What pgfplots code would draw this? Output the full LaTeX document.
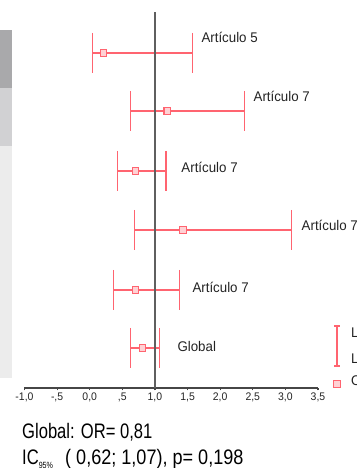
\documentclass[border=0pt]{standalone}
\usepackage{pgfplots}
\pgfplotsset{compat=1.18}
\usepackage{fontspec}
\setmainfont{Liberation Sans}
\newfontfamily\labfont[FakeStretch=0.95]{Liberation Sans}
\newfontfamily\condfont[FakeStretch=0.79]{Liberation Sans}
\newfontfamily\condfontB[FakeStretch=0.86]{Liberation Sans}
\definecolor{cired}{RGB}{255,100,112}
\definecolor{refgray}{RGB}{95,95,95}
\definecolor{axgray}{RGB}{70,70,70}
\definecolor{txt}{RGB}{35,35,35}
\definecolor{bgA}{RGB}{169,169,171}
\definecolor{bgB}{RGB}{209,209,211}
\definecolor{bgC}{RGB}{236,236,236}

% confidence intervals: lower and upper limit of each row, nan separates rows
\pgfplotstableread{
x y
0.04 347
1.57 347
nan nan
0.62 289
2.37 289
nan nan
0.42 229
1.17 229
nan nan
0.68 170
3.09 170
nan nan
0.37 110
1.37 110
nan nan
0.62 52
1.07 52
}\citable

\pgfplotstableread{
or y
0.21 347
1.19 289
0.70 229
1.43 170
0.70 110
0.81 52
}\ortable

\begin{document}
\begin{tikzpicture}[x=1pt,y=1pt]
\path (0,0) rectangle (356,468);
\fill[bgA] (0,438) rectangle (12,380);
\fill[bgB] (0,380) rectangle (12,322);
\fill[bgC] (0,322) rectangle (12,90);
\begin{axis}[
  at={(24.5pt,80pt)}, anchor=south west,
  width=293.5pt, height=376pt, scale only axis,
  xmin=-1, xmax=3.5, ymin=12, ymax=388,
  axis x line=bottom, axis y line=none,
  axis line style={-, axgray, line width=1.1pt},
  xtick={-1,-0.5,0,0.5,1,1.5,2,2.5,3,3.5},
  xticklabels={{-1,0},{-,5},{0,0},{,5},{1,0},{1,5},{2,0},{2,5},{3,0},{3,5}},
  tick align=outside, major tick length=2.5pt,
  tick style={axgray, line width=1.2pt},
  xticklabel style={font=\fontsize{11}{12}\selectfont\labfont, text=txt, yshift=1pt},
  clip=false,
  unbounded coords=jump,
]
\addplot[cired, line width=1.1pt, mark=|, mark size=20pt, mark options={line width=1.1pt}]
  table[x=x, y=y] {\citable};
\addplot[refgray, line width=1.7pt] coordinates {(1,12) (1,388)};
\addplot[only marks, cired, mark=square*, mark size=3.3pt, mark options={fill=cired!30, line width=1.1pt}]
  table[x=or, y=y] {\ortable};
\begin{scope}[every node/.style={anchor=west, inner sep=0pt, font=\fontsize{14}{15}\selectfont\labfont, text=txt}]
\node at (axis cs:1.711,363) {Artículo 5};
\node at (axis cs:2.510,304) {Artículo 7};
\node at (axis cs:1.404,233) {Artículo 7};
\node[overlay] at (axis cs:3.247,175) {Artículo 7};
\node at (axis cs:1.573,113) {Artículo 7};
\node at (axis cs:1.343,54) {Global};
\end{scope}
\end{axis}
% legend
\draw[cired, line width=1.1pt] (337,142) -- (337,102);
\draw[cired, line width=1.1pt] (334,142) -- (340,142);
\draw[cired, line width=1.1pt] (334,102) -- (340,102);
\draw[cired, line width=1.1pt, fill=cired!30] (333.7,80.7) rectangle (340.3,87.3);
\begin{scope}[every node/.style={overlay, anchor=west, inner sep=0pt, font=\fontsize{14}{15}\selectfont\labfont, text=txt}]
\node at (351,134) {Límite superior};
\node at (351,110) {Límite inferior};
\node at (351,87) {OR};
\end{scope}
% bottom text
\node[anchor=base west, inner sep=0pt, font=\fontsize{21}{22}\selectfont\condfont, text=black] at (22,29) {Global: OR= 0,81};
\node[overlay, anchor=base west, inner sep=0pt, font=\fontsize{21}{22}\selectfont\condfont, text=black] at (22,4) {IC\raisebox{-5pt}{\fontsize{9}{9}\selectfont 95\%}};
\node[overlay, anchor=base west, inner sep=0pt, font=\fontsize{21}{22}\selectfont\condfontB, text=black] at (65,4) {( 0,62; 1,07), p= 0,198};
\end{tikzpicture}
\end{document}
